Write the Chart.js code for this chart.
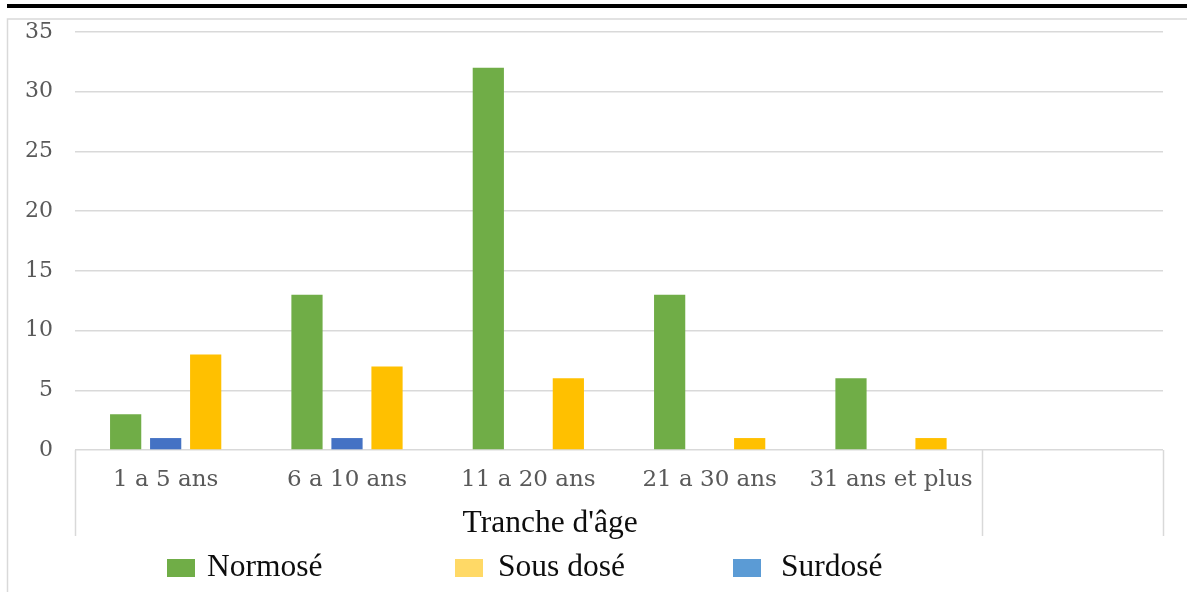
<!DOCTYPE html>
<html>
<head>
<meta charset="utf-8">
<script src="https://cdn.jsdelivr.net/npm/chart.js@4.4.1/dist/chart.umd.min.js"></script>
<style>
  html, body { margin: 0; padding: 0; background: #ffffff; }
  #wrap { width: 1187px; height: 592px; position: relative; }
</style>
</head>
<body>
<div id="wrap"><canvas id="c" width="1187" height="592"></canvas></div>
<script>
// Age groups and counts per dosing status
const categories = ['1 a 5 ans', '6 a 10 ans', '11 a 20 ans', '21 a 30 ans', '31 ans et plus', ''];
const normose  = [3, 13, 32, 13, 6, null];
const surdose  = [1, 1, 0, 0, 0, null];
const sousDose = [8, 7, 6, 1, 1, null];
const yTicks   = [0, 5, 10, 15, 20, 25, 30, 35];
const groupLabel = "Tranche d'âge";
const groupRange = [0, 4];   // categories covered by the group label

// Colours
const barColors    = { normose: '#70AD47', surdose: '#4472C4', sousDose: '#FFC000' };
const legendColors = { normose: '#70AD47', surdose: '#5B9BD5', sousDose: '#FFD966' };
const lineGray = '#D9D9D9';
const tickGray = '#595959';

// Legend entries, in display order
const legendItems = [
  { text: 'Normosé',   color: legendColors.normose,  boxX: 167, textX: 207 },
  { text: 'Sous dosé', color: legendColors.sousDose, boxX: 455, textX: 498 },
  { text: 'Surdosé',   color: legendColors.surdose,  boxX: 733, textX: 781 }
];

const serifTicks = '"DejaVu Serif", serif';
const serifText  = '"Liberation Serif", "Times New Roman", serif';

// Frame: heavy rule above and light chart border
const framePlugin = {
  id: 'frame',
  beforeDraw(chart) {
    const ctx = chart.ctx;
    ctx.save();
    ctx.fillStyle = '#ffffff';
    ctx.fillRect(0, 0, chart.width, chart.height);
    ctx.fillStyle = '#000000';
    ctx.fillRect(7, 4, chart.width - 7, 4);
    ctx.strokeStyle = lineGray;
    ctx.lineWidth = 1.5;
    ctx.beginPath();
    ctx.moveTo(7.5, chart.height + 2);
    ctx.lineTo(7.5, 19);
    ctx.lineTo(chart.width + 2, 19);
    ctx.stroke();
    ctx.restore();
  }
};

// Two-level category axis: separators and group title, plus the legend
const axisGroupPlugin = {
  id: 'axisGroup',
  afterDraw(chart) {
    const ctx = chart.ctx;
    const x = chart.scales.x;
    const area = chart.chartArea;
    ctx.save();
    ctx.strokeStyle = lineGray;
    ctx.lineWidth = 1.5;
    const seps = [groupRange[0] - 0.5, groupRange[1] + 0.5, categories.length - 0.5];
    ctx.beginPath();
    seps.forEach(v => {
      const px = Math.round(x.getPixelForValue(v)) + 0.5;
      ctx.moveTo(px, area.bottom);
      ctx.lineTo(px, area.bottom + 86);
    });
    ctx.stroke();

    ctx.fillStyle = '#0D0D0D';
    ctx.font = '31.5px ' + serifText;
    ctx.textAlign = 'center';
    ctx.textBaseline = 'alphabetic';
    const mid = x.getPixelForValue((groupRange[0] + groupRange[1]) / 2 + 0.12);
    ctx.fillText(groupLabel, mid, 532);

    ctx.textAlign = 'left';
    legendItems.forEach(it => {
      ctx.fillStyle = it.color;
      ctx.fillRect(it.boxX, 559, 28, 18);
      ctx.fillStyle = '#0D0D0D';
      ctx.fillText(it.text, it.textX, 576);
    });
    ctx.restore();
  }
};

new Chart(document.getElementById('c'), {
  type: 'bar',
  data: {
    labels: categories,
    datasets: [
      { label: 'Normosé',   data: normose,  backgroundColor: barColors.normose },
      { label: 'Surdosé',   data: surdose,  backgroundColor: barColors.surdose },
      { label: 'Sous dosé', data: sousDose, backgroundColor: barColors.sousDose }
    ]
  },
  options: {
    responsive: false,
    animation: false,
    devicePixelRatio: 1,
    categoryPercentage: 0.662,
    barPercentage: 0.78,
    layout: { padding: { top: 32, right: 24, left: 0, bottom: 0 } },
    plugins: {
      legend: { display: false },
      tooltip: { enabled: false },
      title: { display: false }
    },
    scales: {
      x: {
        grid: { display: false, drawTicks: false },
        border: { display: false },
        ticks: {
          color: tickGray,
          font: { family: serifTicks, size: 23 },
          padding: 16,
          autoSkip: false,
          maxRotation: 0,
          minRotation: 0
        },
        afterFit(s) { s.height = 142; s.paddingLeft = 0; s.paddingRight = 0; }
      },
      y: {
        min: 0,
        max: 35,
        grid: { color: lineGray, lineWidth: 1.4, drawTicks: false },
        border: { display: false },
        ticks: {
          color: tickGray,
          font: { family: serifTicks, size: 22 },
          padding: 22
        },
        afterBuildTicks(s) { s.ticks = yTicks.map(v => ({ value: v })); },
        afterFit(s) { s.width = 75; s.paddingTop = 0; s.paddingBottom = 0; }
      }
    }
  },
  plugins: [framePlugin, axisGroupPlugin]
});
</script>
</body>
</html>
